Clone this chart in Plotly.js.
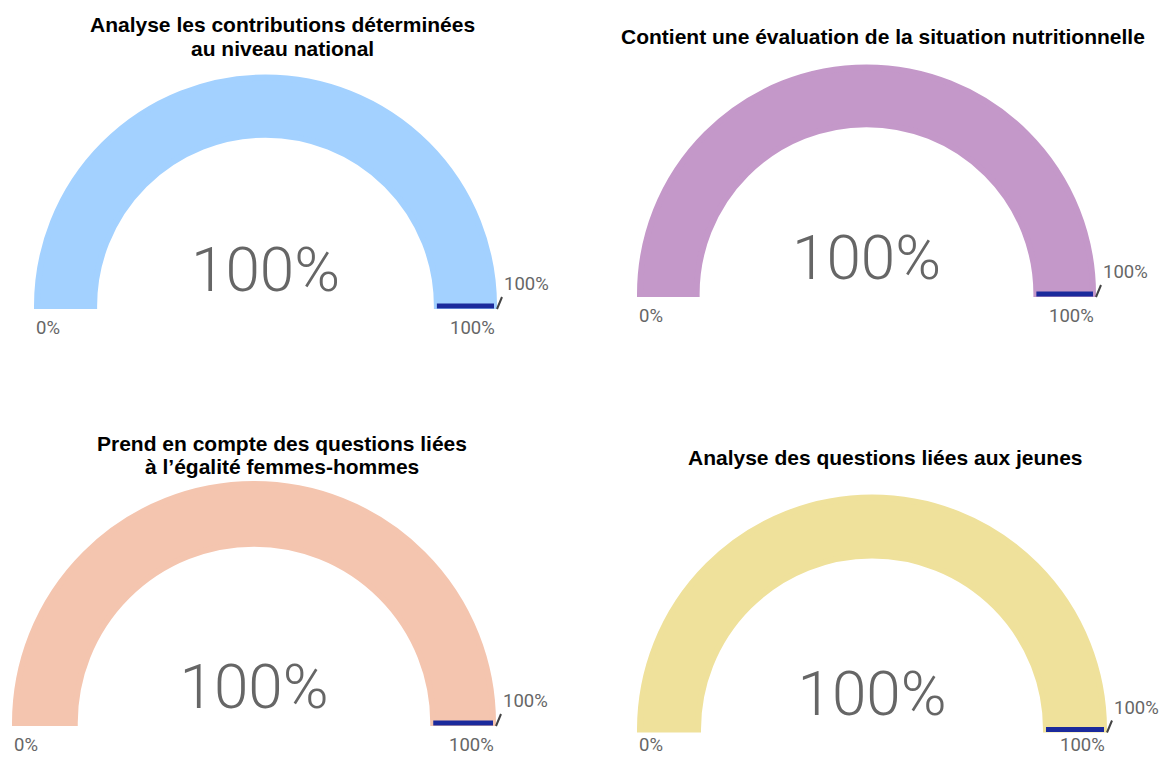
<!DOCTYPE html>
<html><head><meta charset="utf-8">
<script src="https://cdn.plot.ly/plotly-3.0.1.min.js"></script>
<style>html,body{margin:0;padding:0;background:#fff}#chart{width:1162px;height:758px}</style>
</head><body><div id="chart"></div>
<script>
// ---- data ----
const titles = [
  "Analyse les contributions déterminées<br>au niveau national",
  "Contient une évaluation de la situation nutritionnelle",
  "Prend en compte des questions liées<br>à l’égalité femmes-hommes",
  "Analyse des questions liées aux jeunes"
];
const values  = [100, 100, 100, 100];
const targets = [100, 100, 100, 100];
const rangeMin = [0, 0, 0, 0];
const rangeMax = [100, 100, 100, 100];

// ---- styles / layout geometry (pixels) ----
const palette = ["#A3D1FF", "#C498C9", "#F4C5AF", "#EFE19B"];
const targetColor = "#1B2A9C";
const W = 1162, H = 758, STROKE = 6;
const panels = [
  {cx: 265.5, cy: 306,   R: 228.5, tx: 282, ty: 25,  lab: 19},
  {cx: 866.5, cy: 294,   R: 226.5, tx: 883, ty: 37,  lab: 19},
  {cx: 254,   cy: 723,   R: 239,   tx: 282, ty: 443, lab: 19},
  {cx: 872,   cy: 729.5, R: 232,   tx: 885, ty: 457, lab: 12}
];
const numFont = "Roboto, sans-serif";
const LINE_H = 23.5;

const data = [];
const annotations = [];
panels.forEach((p, i) => {
  data.push({
    type: 'indicator',
    mode: 'gauge+number',
    value: values[i],
    number: {suffix: '%', font: {family: numFont, size: 62, color: '#666666', weight: 300}},
    gauge: {
      shape: 'angular',
      axis: {range: [rangeMin[i], rangeMax[i]], visible: false},
      bar: {color: palette[i], thickness: 1, line: {color: palette[i], width: STROKE}},
      bgcolor: 'rgba(0,0,0,0)',
      borderwidth: 0,
      threshold: {line: {color: targetColor, width: 5}, thickness: 1, value: targets[i]}
    },
    domain: {x: [(p.cx - p.R) / W, (p.cx + p.R) / W], y: [1 - p.cy / H, 1 - (p.cy - p.R) / H]}
  });
  const Rv = p.R + STROKE / 2, by = p.cy + STROKE / 2;
  titles[i].split('<br>').forEach((line, k) => {
    annotations.push({
      xref: 'paper', yref: 'paper', x: p.tx / W, y: 1 - (p.ty + k * LINE_H) / H, showarrow: false,
      text: line, font: {family: 'Liberation Sans, Arial, sans-serif', size: 21, color: '#000', weight: 'bold'},
      xanchor: 'center', yanchor: 'middle'
    });
  });
  annotations.push({
    xref: 'paper', yref: 'paper', x: (p.cx - Rv) / W, y: 1 - (by + p.lab) / H, showarrow: false,
    text: rangeMin[i] + '%', font: {family: numFont, size: 18.5, color: '#666666'}, xanchor: 'left', yanchor: 'middle'
  });
  annotations.push({
    xref: 'paper', yref: 'paper', x: (p.cx + Rv) / W, y: 1 - (by + p.lab) / H, showarrow: false,
    text: rangeMax[i] + '%', font: {family: numFont, size: 18.5, color: '#666666'}, xanchor: 'right', yanchor: 'middle'
  });
  annotations.push({
    xref: 'paper', yref: 'paper', x: (p.cx + Rv) / W, y: 1 - by / H,
    showarrow: true, arrowhead: 0, arrowwidth: 2, arrowcolor: '#444', ax: 5, ay: -12,
    text: targets[i] + '%', font: {family: numFont, size: 18.5, color: '#666666'}, xanchor: 'left', yanchor: 'bottom'
  });
});

Plotly.newPlot('chart', data, {
  width: W, height: H, margin: {l: 0, r: 0, t: 0, b: 0},
  paper_bgcolor: '#fff', plot_bgcolor: '#fff', showlegend: false,
  annotations: annotations
}, {displayModeBar: false, staticPlot: true});
</script></body></html>
